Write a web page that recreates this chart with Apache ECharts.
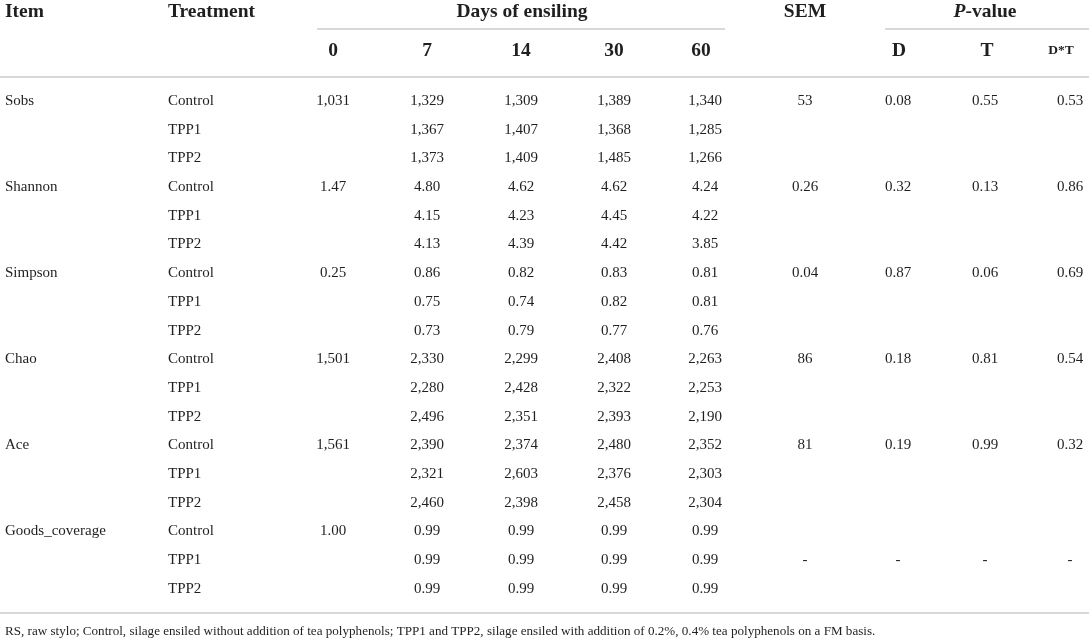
<!DOCTYPE html>
<html>
<head>
<meta charset="utf-8">
<script src="https://cdn.jsdelivr.net/npm/echarts@6/dist/echarts.min.js"></script>
<style>html,body{margin:0;padding:0;background:#fff;}#c{width:1089px;height:641px;}</style>
</head>
<body>
<div id="c"></div>
<script>
// ---------- DATA ----------
const items = ['Sobs', 'Shannon', 'Simpson', 'Chao', 'Ace', 'Goods_coverage'];
const treatments = ['Control', 'TPP1', 'TPP2'];
const dayLabels = ['0', '7', '14', '30', '60'];
const statLabels = ['D', 'T', 'D*T'];
const day0 = ['1,031', '1.47', '0.25', '1,501', '1,561', '1.00'];
const sobs = [['1,329', '1,309', '1,389', '1,340'], ['1,367', '1,407', '1,368', '1,285'], ['1,373', '1,409', '1,485', '1,266']];
const shannon = [['4.80', '4.62', '4.62', '4.24'], ['4.15', '4.23', '4.45', '4.22'], ['4.13', '4.39', '4.42', '3.85']];
const simpson = [['0.86', '0.82', '0.83', '0.81'], ['0.75', '0.74', '0.82', '0.81'], ['0.73', '0.79', '0.77', '0.76']];
const chao = [['2,330', '2,299', '2,408', '2,263'], ['2,280', '2,428', '2,322', '2,253'], ['2,496', '2,351', '2,393', '2,190']];
const ace = [['2,390', '2,374', '2,480', '2,352'], ['2,321', '2,603', '2,376', '2,303'], ['2,460', '2,398', '2,458', '2,304']];
const goods = [['0.99', '0.99', '0.99', '0.99'], ['0.99', '0.99', '0.99', '0.99'], ['0.99', '0.99', '0.99', '0.99']];
const sem = ['53', '0.26', '0.04', '86', '81', '-'];
const pD = ['0.08', '0.32', '0.87', '0.18', '0.19', '-'];
const pT = ['0.55', '0.13', '0.06', '0.81', '0.99', '-'];
const pDT = ['0.53', '0.86', '0.69', '0.54', '0.32', '-'];
const statRowWithin = [0, 0, 0, 0, 0, 1];
const footnote = 'RS, raw stylo; Control, silage ensiled without addition of tea polyphenols; TPP1 and TPP2, silage ensiled with addition of 0.2%, 0.4% tea polyphenols on a FM basis.';

// ---------- LAYOUT ----------
const W = 1089, H = 641;
const FONT = '"Liberation Serif", "DejaVu Serif", serif';
const colItemX = 5, colTreatX = 168;
const dayColX = [333, 427, 521, 614, 705];
const semX = 805;
const statColX = [898, 985, 1070];
const statHeadX = [899, 987, 1061];
const head1Y = 12, head2Y = 50.5;
const rowTop = 101, rowH = 28.7;
const footY = 632;

const blocks = [sobs, shannon, simpson, chao, ace, goods];
const texts = [];
function add(x, y, text, opt) { texts.push(Object.assign({ x: x, y: y, text: text }, opt || {})); }

// header
const hb = { bold: true, size: 19.5 };
add(colItemX, head1Y, 'Item', Object.assign({ align: 'left' }, hb));
add(colTreatX, head1Y, 'Treatment', Object.assign({ align: 'left' }, hb));
add(522, head1Y, 'Days of ensiling', hb);
add(semX, head1Y, 'SEM', hb);
add(985, head1Y, '{i|P}-value', Object.assign({ rich: true }, hb));
dayLabels.forEach((d, i) => add(dayColX[i] + (i === 4 ? -4 : 0), head2Y, d, hb));
statLabels.forEach((s, i) => add(statHeadX[i], head2Y, s, i === 2 ? { bold: true, size: 13.5 } : hb));

// body
items.forEach((it, b) => {
  const base = b * treatments.length;
  add(colItemX, rowTop + base * rowH, it, { align: 'left' });
  treatments.forEach((t, k) => {
    const y = rowTop + (base + k) * rowH;
    add(colTreatX, y, t, { align: 'left' });
    if (k === 0) add(dayColX[0], y, day0[b]);
    blocks[b][k].forEach((v, j) => add(dayColX[j + 1], y, v));
  });
  const sy = rowTop + (base + statRowWithin[b]) * rowH;
  add(semX, sy, sem[b]);
  add(statColX[0], sy, pD[b]);
  add(statColX[1], sy, pT[b]);
  add(statColX[2], sy, pDT[b]);
});
add(colItemX, footY, footnote, { align: 'left', size: 13.1 });

// rules
const lastRowY = rowTop + 17 * rowH;
const rules = [
  [[317, 29], [725, 29]],
  [[885, 29], [1089, 29]],
  [[0, 77], [1089, 77]],
  [[0, lastRowY + 24], [1089, lastRowY + 24]]
];

const chart = echarts.init(document.getElementById('c'), null, { renderer: 'canvas' });
const series = [{
  type: 'custom',
  coordinateSystem: 'cartesian2d',
  data: texts.map(t => [t.x, t.y]),
  silent: true,
  renderItem: function (params, api) {
    const t = texts[params.dataIndex];
    const p = api.coord([api.value(0), api.value(1)]);
    const style = {
      text: t.text,
      fill: '#1f1f1f',
      fontFamily: FONT,
      fontSize: t.size || 15,
      fontWeight: t.bold ? 'bold' : 'normal',
      align: t.align || 'center',
      verticalAlign: 'middle'
    };
    if (t.rich) style.rich = { i: { fontStyle: 'italic', fontWeight: 'bold', fontFamily: FONT, fontSize: t.size, fill: '#1f1f1f' } };
    return { type: 'text', x: p[0], y: p[1], style: style };
  }
}];
rules.forEach(r => series.push({
  type: 'line', data: r, symbol: 'none', silent: true,
  lineStyle: { color: '#cccccc', width: 1.5 }
}));

chart.setOption({
  animation: false,
  grid: { left: 0, right: 0, top: 0, bottom: 0 },
  xAxis: { type: 'value', min: 0, max: W, show: false },
  yAxis: { type: 'value', min: 0, max: H, inverse: true, show: false },
  series: series
});
</script>
</body>
</html>
